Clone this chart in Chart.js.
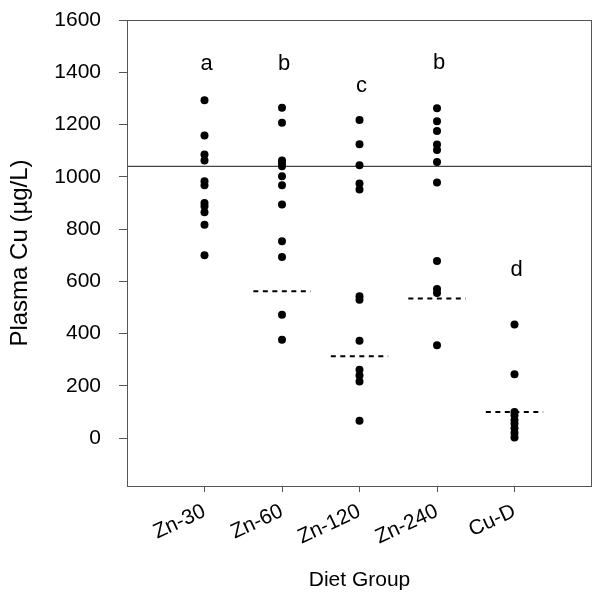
<!DOCTYPE html>
<html>
<head>
<meta charset="utf-8">
<script src="https://cdn.jsdelivr.net/npm/chart.js@4"></script>
<style>
  html, body { margin: 0; padding: 0; background: #fff; }
  #wrap { width: 592px; height: 594px; }
</style>
</head>
<body>
<div id="wrap"><canvas id="scatter"></canvas></div>
<script>
// groups and readings (µg/L)
var groups = ['Zn-30', 'Zn-60', 'Zn-120', 'Zn-240', 'Cu-D'];
var zn30 = [1293, 1158, 1085, 1062, 983, 968, 900, 887, 864, 817, 700];
var zn60 = [1264, 1207, 1062, 1050, 1040, 1002, 968, 894, 753, 693, 472, 377];
var zn120 = [1217, 1125, 1044, 974, 951, 543, 530, 373, 262, 240, 217, 67];
var zn240 = [1262, 1213, 1175, 1124, 1103, 1057, 978, 678, 571, 555, 356];
var cuD = [435, 245, 100, 88, 70, 55, 38, 20, 3];
var medians = [null, 562, 313, 534, 100];
var letters = ['a', 'b', 'c', 'b', 'd'];
var letterY = [1430, 1430, 1346, 1437, 645];
var refLevel = 1040;
var yTicks = [0, 200, 400, 600, 800, 1000, 1200, 1400, 1600];

var FONT = "'Liberation Sans', Arial, Helvetica, sans-serif";
var allGroups = [zn30, zn60, zn120, zn240, cuD];

var datasets = [];
// reference line
datasets.push({
  type: 'line',
  data: [{x: 0, y: refLevel}, {x: groups.length + 1, y: refLevel}],
  borderColor: '#444',
  borderWidth: 1.2,
  pointRadius: 0,
  order: 3
});
// dashed group lines
medians.forEach(function (m, i) {
  if (m === null) return;
  datasets.push({
    type: 'line',
    data: [{x: i + 1 - 0.37, y: m}, {x: i + 1 + 0.37, y: m}],
    borderColor: '#000',
    borderWidth: 2,
    borderDash: [5, 4.5],
    pointRadius: 0,
    order: 2
  });
});
// points
allGroups.forEach(function (vals, i) {
  datasets.push({
    type: 'scatter',
    label: groups[i],
    data: vals.map(function (v) { return {x: i + 1, y: v}; }),
    backgroundColor: '#000',
    borderColor: '#000',
    pointRadius: 4,
    pointBorderWidth: 0,
    order: 1
  });
});

var framePlugin = {
  id: 'frame',
  afterDraw: function (chart) {
    var ctx = chart.ctx, a = chart.chartArea;
    ctx.save();
    ctx.strokeStyle = '#555';
    ctx.lineWidth = 1;
    ctx.strokeRect(a.left + 0.5, a.top + 0.5, a.right - a.left - 1, a.bottom - a.top);
    // group letters
    ctx.fillStyle = '#000';
    ctx.font = '22px ' + FONT;
    ctx.textAlign = 'center';
    ctx.textBaseline = 'middle';
    var xs = chart.scales.x, ys = chart.scales.y;
    letters.forEach(function (t, i) {
      ctx.fillText(t, xs.getPixelForValue(i + 1) + 2, ys.getPixelForValue(letterY[i]));
    });
    ctx.restore();
  }
};

function noPad(s) {
  s.paddingTop = 0; s.paddingBottom = 0; s.paddingLeft = 0; s.paddingRight = 0;
}

new Chart(document.getElementById('scatter'), {
  type: 'scatter',
  data: { datasets: datasets },
  options: {
    responsive: true,
    maintainAspectRatio: false,
    animation: false,
    layout: { autoPadding: false, padding: { top: 20, right: 0, left: 0, bottom: 0 } },
    plugins: { legend: { display: false }, tooltip: { enabled: false } },
    scales: {
      x: {
        type: 'linear',
        min: 0,
        max: groups.length + 1,
        afterBuildTicks: function (s) {
          s.ticks = groups.map(function (g, i) { return {value: i + 1}; });
        },
        afterFit: function (s) { s.height = 108; noPad(s); },
        grid: { drawOnChartArea: false, drawTicks: true, tickLength: 6, color: '#555' },
        border: { display: false },
        ticks: {
          color: '#000',
          font: { family: FONT, size: 21 },
          maxRotation: 25,
          minRotation: 25,
          padding: 7,
          callback: function (v) { return groups[v - 1]; }
        },
        title: {
          display: true,
          text: 'Diet Group',
          color: '#000',
          font: { family: FONT, size: 21 },
          padding: { top: 2, bottom: 1 }
        }
      },
      y: {
        min: -183,
        max: 1600,
        afterBuildTicks: function (s) {
          s.ticks = yTicks.map(function (v) { return {value: v}; });
        },
        afterFit: function (s) { s.width = 127; noPad(s); },
        grid: { drawOnChartArea: false, drawTicks: true, tickLength: 8, color: '#555' },
        border: { display: false },
        ticks: {
          color: '#000',
          font: { family: FONT, size: 21 },
          padding: 18,
          callback: function (v) { return String(v); }
        },
        title: {
          display: true,
          text: 'Plasma Cu (µg/L)',
          color: '#000',
          font: { family: FONT, size: 24 },
          padding: { top: 6, bottom: 0 }
        }
      }
    }
  },
  plugins: [framePlugin]
});
</script>
</body>
</html>
